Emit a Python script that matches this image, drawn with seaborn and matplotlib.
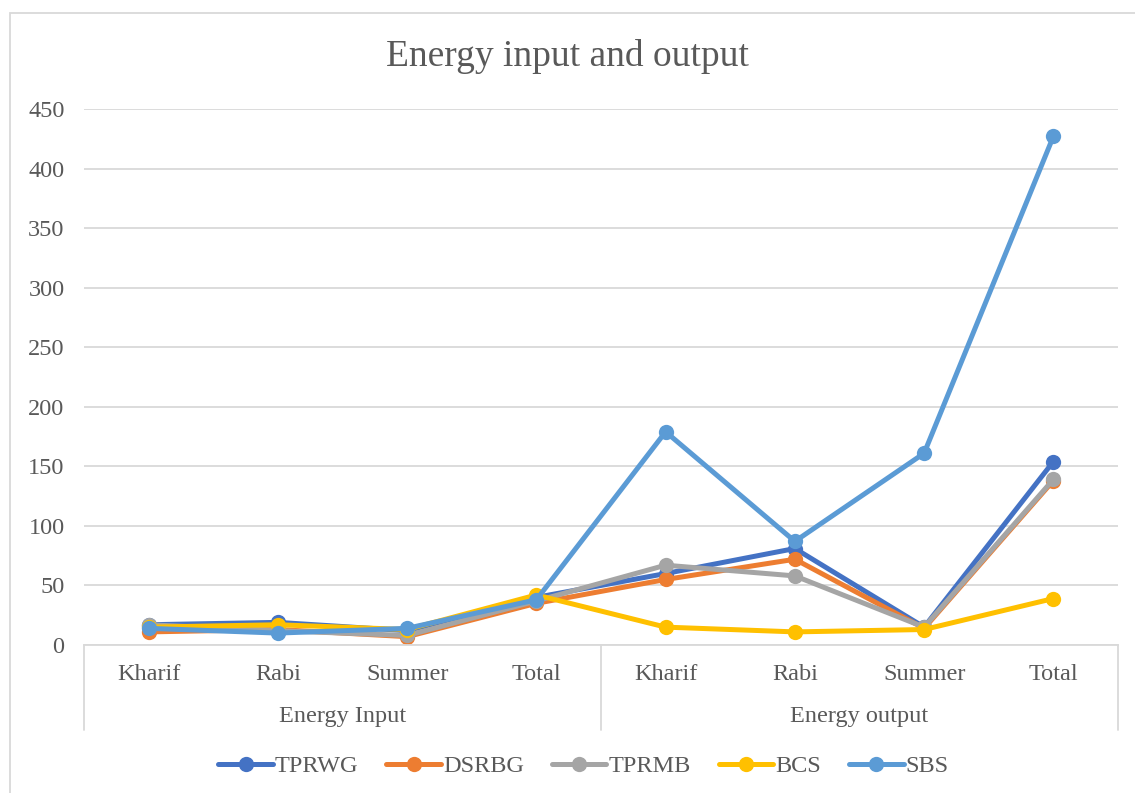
import pandas as pd
import seaborn as sns
import matplotlib.pyplot as plt
from matplotlib.patches import Rectangle

# data
groups = ['Energy Input', 'Energy output']
seasons = ['Kharif', 'Rabi', 'Summer', 'Total']
tprwg = [17, 19, 12, 40, 60, 81, 15, 154]
dsrbg = [11, 13, 7, 35, 55, 72, 14, 138]
tprmb = [17, 12, 8, 37, 67, 58, 15, 139]
bcs = [15, 17, 13, 42, 15, 11, 13, 39]
sbs = [14, 10, 14, 38, 179, 87, 161, 427]

names = ['TPRWG', 'DSRBG', 'TPRMB', 'BCS', 'SBS']
colors = ['#4472C4', '#ED7D31', '#A5A5A5', '#FFC000', '#5B9BD5']
series = [tprwg, dsrbg, tprmb, bcs, sbs]

rows = []
for n, vals in zip(names, series):
    for i, v in enumerate(vals):
        rows.append({'pos': i, 'value': v, 'series': n})
df = pd.DataFrame(rows)

sns.set_style('white')
plt.rcParams['font.family'] = ['Liberation Serif', 'DejaVu Serif']
txt = '#595959'
grid = '#D9D9D9'
fs = 17.5

W, H = 1135, 793
fig = plt.figure(figsize=(W / 100, H / 100), dpi=100)
fig.patches.append(Rectangle((10 / W, -0.2), 1.2, 1.2 - 13 / H, transform=fig.transFigure,
                             fill=False, edgecolor=grid, linewidth=1.3))

ax = fig.add_axes([84 / W, (H - 645) / H, (1118 - 84) / W, (645 - 109) / H])
sns.lineplot(data=df, x='pos', y='value', hue='series', palette=colors,
             marker='o', markersize=11, markeredgewidth=0, linewidth=3.6,
             sort=False, ax=ax, legend=True)

ax.set_xlim(-0.5, 7.5)
ax.set_ylim(0, 450)
ax.set_yticks(range(0, 451, 50))
ax.yaxis.grid(True, color=grid, linewidth=1.3)
ax.set_axisbelow(True)
for s in ['top', 'right', 'left']:
    ax.spines[s].set_visible(False)
ax.spines['bottom'].set_color(grid)
ax.spines['bottom'].set_linewidth(1.3)
ax.set_xlabel('')
ax.set_ylabel('')
ax.set_xticks(range(8))
ax.set_xticklabels(seasons * 2)
ax.tick_params(axis='both', length=0, labelsize=fs, colors=txt)
ax.tick_params(axis='x', pad=14)
ax.tick_params(axis='y', pad=14)

# multi-level category axis
for xv in [-0.5, 3.5, 7.5]:
    ax.plot([xv, xv], [0, -0.159], transform=ax.get_xaxis_transform(),
            color=grid, linewidth=1.3, clip_on=False)
ax.text(1.5, -0.134, groups[0], transform=ax.get_xaxis_transform(),
        ha='center', va='center', fontsize=fs, color=txt)
ax.text(5.5, -0.134, groups[1], transform=ax.get_xaxis_transform(),
        ha='center', va='center', fontsize=fs, color=txt)

fig.text(0.5, 1 - 56 / H, 'Energy input and output', ha='center', va='center',
         fontsize=27, color=txt)

h, l = ax.get_legend_handles_labels()
ax.legend(h, l, loc='center', bbox_to_anchor=(0.514, (H - 766) / H), bbox_transform=fig.transFigure,
          ncol=5, frameon=False, fontsize=fs, labelcolor=txt, handlelength=2.25,
          handletextpad=0.08, columnspacing=1.15)

fig.savefig('out.png', dpi=100)
